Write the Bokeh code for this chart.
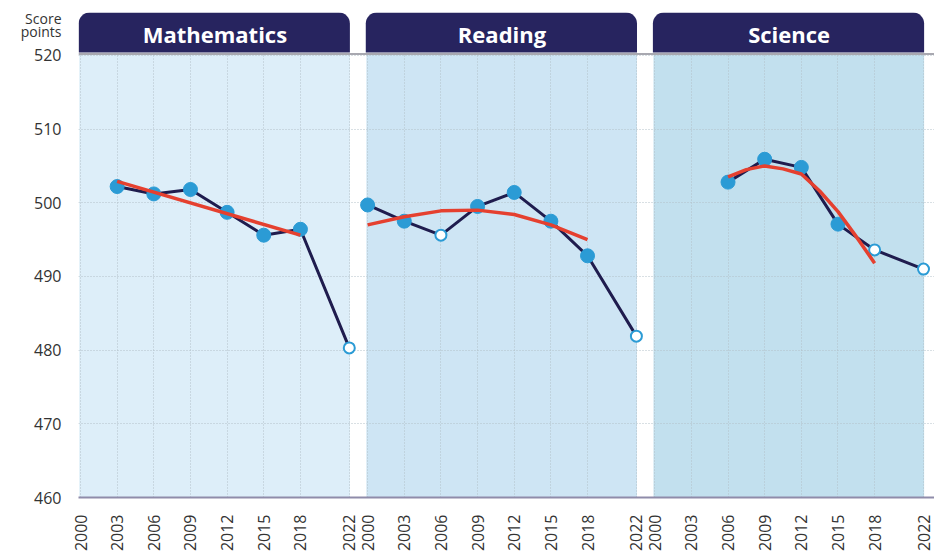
import math
from bokeh.plotting import figure
from bokeh.models import (ColumnDataSource, FixedTicker, BoxAnnotation, Span,
                          Range1d, Grid, LinearAxis)
from bokeh.core.properties import value
from bokeh.embed import file_html
from bokeh.resources import INLINE

# ---------------- data ----------------
subjects = ["Mathematics", "Reading", "Science"]
tick_years = [2000, 2003, 2006, 2009, 2012, 2015, 2018, 2022]
y_ticks = [460, 470, 480, 490, 500, 510, 520]
y_title_lines = ["Score", "points"]
y_title_pos = [524.94, 523.3]

math_years = [2003, 2006, 2009, 2012, 2015, 2018, 2022]
math_scores = [502.2, 501.2, 501.8, 498.7, 495.6, 496.4, 480.3]
math_hollow = [False, False, False, False, False, False, True]
math_trend_years = [2003, 2018]
math_trend = [502.9, 495.6]

read_years = [2000, 2003, 2006, 2009, 2012, 2015, 2018, 2022]
read_scores = [499.7, 497.5, 495.6, 499.5, 501.4, 497.5, 492.8, 481.9]
read_hollow = [False, False, True, False, False, False, False, True]
read_trend_years = [2000, 2003, 2006, 2009, 2012, 2015, 2018]
read_trend = [497.0, 498.1, 498.9, 499.0, 498.4, 497.0, 495.0]

sci_years = [2006, 2009, 2012, 2015, 2018, 2022]
sci_scores = [502.8, 505.9, 504.8, 497.1, 493.6, 491.0]
sci_hollow = [False, False, False, False, True, True]
sci_trend_years = [2006, 2007.5, 2009, 2010.5, 2012, 2013.5, 2015, 2016.5, 2018]
sci_trend = [503.5, 504.5, 505.0, 504.6, 503.9, 501.6, 498.8, 495.4, 491.8]

panels = [
    (math_years, math_scores, math_hollow, math_trend_years, math_trend),
    (read_years, read_scores, read_hollow, read_trend_years, read_trend),
    (sci_years, sci_scores, sci_hollow, sci_trend_years, sci_trend),
]

# ---------------- style ----------------
bg_colors = ["#ddeef9", "#cee5f4", "#c2e0ee"]
NAVY = "#27245f"
LINE = "#1f1c4e"
DOT = "#2b9bd5"
RED = "#e5402f"
FONT = "Open Sans"
TXT = "#333333"
PANEL_STEP = 23.5   # horizontal offset between panels (layout)
BASE = 2000

def px(year, i):
    return (year - BASE) + i * PANEL_STEP

p = figure(width=934, height=554,
           x_range=Range1d(-0.164, 69.9), y_range=Range1d(460, 525.82),
           output_backend="svg", toolbar_location=None,
           min_border_left=78, min_border_right=0, min_border_top=12,
           min_border_bottom=56)
p.outline_line_color = None
p.background_fill_color = "white"

# tick positions / labels
tick_pos = []
overrides = {}
for i in range(3):
    for y in tick_years:
        pos = float(px(y, i))
        tick_pos.append(pos)
        overrides[pos] = str(y)

p.xaxis.ticker = FixedTicker(ticks=tick_pos)
p.xaxis.major_label_overrides = overrides
p.xaxis.major_label_orientation = math.pi / 2
p.xaxis.major_label_text_font = FONT
p.xaxis.major_label_text_font_size = "16px"
p.xaxis.major_label_text_color = TXT
p.xaxis.major_label_standoff = 11
p.xaxis.axis_line_color = "#8f8caa"
p.xaxis.axis_line_width = 2
p.xaxis.major_tick_line_color = None
p.xaxis.minor_tick_line_color = None

p.yaxis.ticker = FixedTicker(ticks=y_ticks)
p.yaxis.major_label_text_font = FONT
p.yaxis.major_label_text_font_size = "16px"
p.yaxis.major_label_text_color = TXT
p.yaxis.major_label_standoff = 11
p.yaxis.axis_line_color = None
p.yaxis.major_tick_line_color = None
p.yaxis.minor_tick_line_color = None

# "Score points" as a second (label-only) left axis
title_axis = LinearAxis(ticker=FixedTicker(ticks=y_title_pos),
                        major_label_overrides=dict(zip(y_title_pos, y_title_lines)),
                        major_label_text_font=FONT,
                        major_label_text_font_size="14px",
                        major_label_text_color=TXT,
                        major_label_standoff=-36,
                        axis_line_color=None,
                        major_tick_line_color=None,
                        minor_tick_line_color=None)
p.add_layout(title_axis, "left")

for g in (p.xgrid, p.ygrid):
    g.grid_line_color = "#b3c0c9"
    g.grid_line_dash = "1 2"
    g.grid_line_width = 1
if "cross_bounds" in Grid.properties():
    p.xgrid.cross_bounds = (460, 520)

# thin grey line at top of plotting area (visible in gaps)
p.add_layout(Span(location=520.2, dimension="width", line_color="#a8a8b0",
                  line_width=2, level="image"))

# panel backgrounds
bg_src = ColumnDataSource(dict(
    left=[px(tick_years[0], i) - 0.1 for i in range(3)],
    right=[px(tick_years[-1], i) + 0.05 for i in range(3)],
    color=bg_colors))
p.quad(left="left", right="right", bottom=460, top=520.3, source=bg_src,
       fill_color="color", line_color=None, level="image")

# header boxes
for i, name in enumerate(subjects):
    p.add_layout(BoxAnnotation(left=px(tick_years[0], i) - 0.15,
                               right=px(tick_years[-1], i) + 0.05,
                               bottom=520.4, top=525.82,
                               fill_color=NAVY, fill_alpha=1.0,
                               line_color=None,
                               border_radius=dict(top_left=11, top_right=11,
                                                  bottom_right=0, bottom_left=0)))
p.text(x=[(px(tick_years[0], i) + px(tick_years[-1], i)) / 2 for i in range(3)],
       y=[522.95] * 3, text=subjects, text_color="white",
       text_font=value(FONT), text_font_style="bold", text_font_size="22px",
       text_align="center", text_baseline="middle", level="overlay")

# data
for i, (yrs, scores, hollow, tyrs, trend) in enumerate(panels):
    xs = [px(y, i) for y in yrs]
    p.line(xs, scores, line_color=LINE, line_width=3)
    fx = [x for x, h in zip(xs, hollow) if not h]
    fy = [s for s, h in zip(scores, hollow) if not h]
    hx = [x for x, h in zip(xs, hollow) if h]
    hy = [s for s, h in zip(scores, hollow) if h]
    p.scatter(fx, fy, size=14, fill_color=DOT, line_color=DOT, line_width=1)
    p.scatter(hx, hy, size=11, fill_color="white", line_color=DOT, line_width=2)
    p.line([px(y, i) for y in tyrs], trend, line_color=RED, line_width=3.5)

open("out.html", "w").write(file_html(p, INLINE))
